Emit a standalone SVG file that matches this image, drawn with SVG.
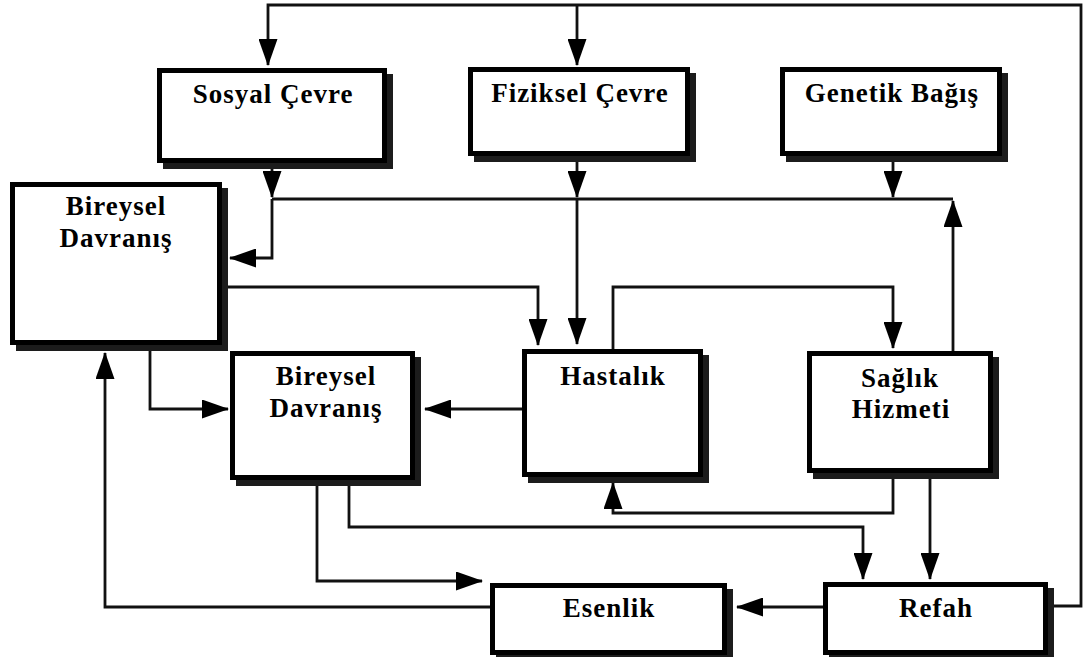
<svg xmlns="http://www.w3.org/2000/svg" width="1085" height="659" viewBox="0 0 1085 659">
<style>
.sh{fill:#1c1c1c}
.bx{fill:#fff;stroke:#000;stroke-width:5}
.t{font-family:"Liberation Serif","Times New Roman",serif;font-weight:bold;font-size:27px;letter-spacing:1px;fill:#000;text-anchor:middle}
.c path{fill:none;stroke:#111;stroke-width:2.8;stroke-linejoin:miter}
</style>
<defs>
<marker id="ah" viewBox="0 0 27 19" markerWidth="27" markerHeight="19" refX="26" refY="9.5" orient="auto" markerUnits="userSpaceOnUse">
<path d="M0,0 L27,9.5 L0,19 Z" fill="#000"/>
</marker>
</defs>
<rect width="1085" height="659" fill="#fff"/>
<g class="c" id="connectors">
<path d="M823,606 H1081 V5 H268 V65" marker-end="url(#ah)"/>
<path d="M577,5 V65" marker-end="url(#ah)"/>
<path d="M272,163 V197" marker-end="url(#ah)"/>
<path d="M272,199 H953"/>
<path d="M272,199 V258 H230" marker-end="url(#ah)"/>
<path d="M577,156 V197" marker-end="url(#ah)"/>
<path d="M577,199 V344" marker-end="url(#ah)"/>
<path d="M893,156 V197" marker-end="url(#ah)"/>
<path d="M953,351 V201" marker-end="url(#ah)"/>
<path d="M222,287 H538 V345" marker-end="url(#ah)"/>
<path d="M613,349 V287 H893 V348" marker-end="url(#ah)"/>
<path d="M150,345 V409 H228" marker-end="url(#ah)"/>
<path d="M522,409 H425" marker-end="url(#ah)"/>
<path d="M893,473 V513 H613 V483" marker-end="url(#ah)"/>
<path d="M930,473 V579" marker-end="url(#ah)"/>
<path d="M349,480 V527 H863 V579" marker-end="url(#ah)"/>
<path d="M317,480 V581 H482" marker-end="url(#ah)"/>
<path d="M823,607 H737" marker-end="url(#ah)"/>
<path d="M490,607 H105 V353" marker-end="url(#ah)"/>
</g>
<g id="sosyal">
<rect class="sh" x="163" y="74" width="230" height="95"/>
<rect class="bx" x="159.5" y="70.5" width="225" height="90"/>
<text class="t" x="273" y="103">Sosyal Çevre</text>
</g>
<g id="fiziksel">
<rect class="sh" x="474" y="73" width="222" height="89"/>
<rect class="bx" x="470.5" y="69.5" width="217" height="84"/>
<text class="t" x="580" y="102">Fiziksel Çevre</text>
</g>
<g id="genetik">
<rect class="sh" x="786" y="73" width="222" height="89"/>
<rect class="bx" x="782.5" y="69.5" width="217" height="84"/>
<text class="t" x="892" y="102">Genetik Bağış</text>
</g>
<g id="bireysel1">
<rect class="sh" x="16" y="188" width="212" height="163"/>
<rect class="bx" x="12.5" y="184.5" width="207" height="158"/>
<text class="t" x="116" y="215">Bireysel</text>
<text class="t" x="116" y="247">Davranış</text>
</g>
<g id="bireysel2">
<rect class="sh" x="236" y="357" width="185" height="129"/>
<rect class="bx" x="232.5" y="353.5" width="180" height="124"/>
<text class="t" x="326" y="385">Bireysel</text>
<text class="t" x="326" y="417">Davranış</text>
</g>
<g id="hastalik">
<rect class="sh" x="528" y="355" width="181" height="128"/>
<rect class="bx" x="524.5" y="351.5" width="176" height="123"/>
<text class="t" x="613" y="385">Hastalık</text>
</g>
<g id="saglik">
<rect class="sh" x="813" y="357" width="186" height="122"/>
<rect class="bx" x="809.5" y="353.5" width="181" height="117"/>
<text class="t" x="900" y="387">Sağlık</text>
<text class="t" x="901" y="418">Hizmeti</text>
</g>
<g id="esenlik">
<rect class="sh" x="496" y="589" width="237" height="68"/>
<rect class="bx" x="492.5" y="585.5" width="232" height="67"/>
<text class="t" x="609" y="617">Esenlik</text>
</g>
<g id="refah">
<rect class="sh" x="829" y="588" width="225" height="69"/>
<rect class="bx" x="825.5" y="584.5" width="220" height="68"/>
<text class="t" x="936" y="617">Refah</text>
</g>
</svg>
